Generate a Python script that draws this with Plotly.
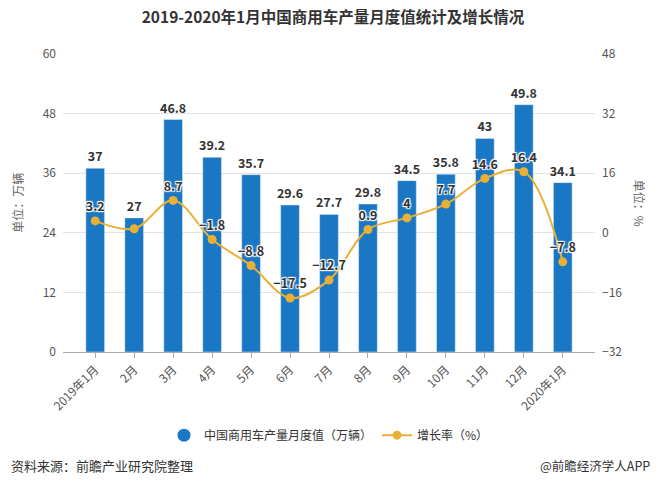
import plotly.graph_objects as go

months = ["2019年1月", "2月", "3月", "4月", "5月", "6月", "7月", "8月", "9月", "10月", "11月", "12月", "2020年1月"]
production = [37, 27, 46.8, 39.2, 35.7, 29.6, 27.7, 29.8, 34.5, 35.8, 43, 49.8, 34.1]
growth = [3.2, 1.1, 8.7, -1.8, -8.8, -17.5, -12.7, 0.9, 4, 7.7, 14.6, 16.4, -7.8]
growth_labels = ["3.2", "", "8.7", "−1.8", "−8.8", "−17.5", "−12.7", "0.9", "4", "7.7", "14.6", "16.4", "−7.8"]
left_ticks = [0, 12, 24, 36, 48, 60]
right_ticks = [-32, -16, 0, 16, 32, 48]

BLUE = "#1a77c3"
GOLD = "#e9b037"
FONT = "Noto Sans CJK SC"

fig = go.Figure()
fig.add_trace(go.Bar(
    x=months, y=production, name="中国商用车产量月度值（万辆）",
    marker=dict(color=BLUE), width=0.48, showlegend=False,
    text=[f"{v:g}" for v in production], textposition="outside",
    constraintext="none",
    textfont=dict(family=FONT, size=12.5, color="#333333", weight="bold"),
    cliponaxis=False,
))
fig.add_trace(go.Scatter(
    x=[None], y=[None], mode="markers", name="中国商用车产量月度值（万辆）",
    marker=dict(color=BLUE, size=13, symbol="circle"),
))
shadow = "1px 1px 1px white, -1px -1px 1px white, 1px -1px 1px white, -1px 1px 1px white, 0px 0px 2px white"
fig.add_trace(go.Scatter(
    x=months, y=growth, name="增长率（%）", yaxis="y2",
    mode="lines+markers+text",
    line=dict(color=GOLD, width=2, shape="spline", smoothing=1.0),
    marker=dict(color=GOLD, size=9),
    text=growth_labels, textposition="top center",
    textfont=dict(family=FONT, size=12.5, color="#333333", weight="bold", shadow=shadow),
    cliponaxis=False,
))

fig.update_layout(
    width=650, height=471,
    margin=dict(l=55, r=63, t=46, b=127),
    paper_bgcolor="white", plot_bgcolor="white",
    font=dict(family=FONT, size=12, color="#555555"),
    title=dict(text="<b>2019-2020年1月中国商用车产量月度值统计及增长情况</b>",
               x=0.5, xanchor="center", y=0.991, yanchor="top",
               font=dict(family=FONT, size=15.5, color="#333333")),
    xaxis=dict(
        type="category", tickangle=-45, showgrid=False,
        showline=True, linecolor="#aaaaaa", linewidth=1,
        ticks="outside", ticklen=5, tickcolor="#aaaaaa",
        tickfont=dict(family=FONT, size=12, color="#555555"),
    ),
    yaxis=dict(
        range=[0, 60], tickvals=left_ticks, showgrid=True, gridcolor="#e3e3e3",
        zeroline=False, showline=False, ticks="",
        tickfont=dict(family=FONT, size=12, color="#555555"), ticklabelstandoff=6,
    ),
    yaxis2=dict(
        range=[-32, 48], tickvals=right_ticks, overlaying="y", side="right",
        showgrid=False, zeroline=False, showline=False, ticks="",
        tickfont=dict(family=FONT, size=12, color="#555555"), ticklabelstandoff=6,
    ),
    legend=dict(orientation="h", x=0.5, xanchor="center", y=-0.279, yanchor="middle",
                font=dict(family=FONT, size=12, color="#333333"), traceorder="normal",
                itemwidth=30),
    annotations=[
        dict(text="单位：万辆", xref="paper", yref="paper", x=-0.087, y=0.5,
             textangle=-90, showarrow=False, xanchor="center", yanchor="middle",
             font=dict(family=FONT, size=12, color="#666666")),
        dict(text="单位：%", xref="paper", yref="paper", x=1.085, y=0.5,
             textangle=90, showarrow=False, xanchor="center", yanchor="middle",
             font=dict(family=FONT, size=12, color="#666666")),
        dict(text="资料来源：前瞻产业研究院整理", xref="paper", yref="paper",
             x=-0.102, y=-0.381, xanchor="left", yanchor="middle", showarrow=False,
             font=dict(family=FONT, size=13, color="#333333")),
        dict(text="@前瞻经济学人APP", xref="paper", yref="paper",
             x=1.108, y=-0.381, xanchor="right", yanchor="middle", showarrow=False,
             font=dict(family=FONT, size=12.5, color="#333333")),
    ],
)

fig.write_html("out.html")
